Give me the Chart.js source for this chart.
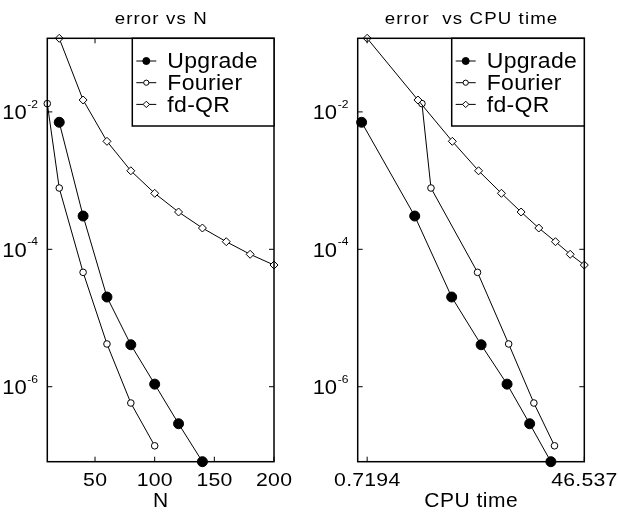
<!DOCTYPE html>
<html>
<head>
<meta charset="utf-8">
<script src="https://cdn.jsdelivr.net/npm/chart.js@4/dist/chart.umd.min.js"></script>
<style>
  html, body { margin: 0; padding: 0; background: #fff; }
  #wrap { position: relative; width: 618px; height: 513px; background: #fff; }
  .panel { position: absolute; top: 0; width: 309px; height: 513px; }
  #p1 { left: 0; }
  #p2 { left: 309px; }
</style>
</head>
<body>
<div id="wrap">
  <div class="panel" id="p1"><canvas id="c1" width="309" height="513"></canvas></div>
  <div class="panel" id="p2"><canvas id="c2" width="309" height="513"></canvas></div>
</div>
<script>
// Discretisation sizes of each method
const N_UPGRADE = [20, 40, 60, 80, 100, 120, 140];
const N_FOURIER = [10, 20, 40, 60, 80, 100];
const N_FDQR    = [20, 40, 60, 80, 100, 120, 140, 160, 180, 200];

// Errors reached at each size
const ERR_UPGRADE = [7.06e-3, 3.05e-4, 2.02e-5, 4.08e-6, 1.09e-6, 2.89e-7, 8.1e-8];
const ERR_FOURIER = [1.32e-2, 7.80e-4, 4.62e-5, 4.19e-6, 5.79e-7, 1.38e-7];
const ERR_FDQR    = [0.1178, 1.489e-2, 3.73e-3, 1.39e-3, 6.53e-4, 3.49e-4, 2.04e-4, 1.29e-4, 8.46e-5, 5.90e-5];

// CPU time spent at each size
const CPU_UPGRADE = [0.647, 1.793, 3.645, 6.42, 10.56, 16.30, 24.5];
const CPU_FOURIER = [2.06, 2.45, 5.99, 10.89, 17.67, 26.26];
const CPU_FDQR    = [0.7194, 1.908, 3.692, 6.111, 9.48, 13.83, 19.42, 26.76, 35.5, 46.537];

const SERIES_NAMES = ['Upgrade', 'Fourier', 'fd-QR'];

// Tick values and their labels
const N_TICKS = [50, 100, 150, 200];
const N_TICK_LABELS = ['50', '100', '150', '200'];
const CPU_TICKS = [0.7194, 46.537];
const CPU_TICK_LABELS = ['0.7194', '46.537'];
const ERR_TICKS = [1e-2, 1e-4, 1e-6];
const ERR_TICK_BASE = '10';
const ERR_TICK_EXPONENTS = ['-2', '-4', '-6'];

const FONT = "'Liberation Sans', Arial, Helvetica, sans-serif";

function pairs(xs, ys) { return xs.map((x, i) => ({ x: x, y: ys[i] })); }

const STYLES = [
  { pointStyle: 'circle',  pointRadius: 5,   fill: '#000', legendRadius: 3.5 },
  { pointStyle: 'circle',  pointRadius: 3.3, fill: '#fff', legendRadius: 2.6 },
  { pointStyle: 'rectRot', pointRadius: 4,   fill: '#fff', legendRadius: 3.2 }
];

function makeDatasets(xsList, ysList) {
  return xsList.map((xs, k) => ({
    label: SERIES_NAMES[k],
    data: pairs(xs, ysList[k]),
    borderColor: '#000',
    borderWidth: 1,
    pointStyle: STYLES[k].pointStyle,
    pointRadius: STYLES[k].pointRadius,
    pointHoverRadius: STYLES[k].pointRadius,
    pointBackgroundColor: STYLES[k].fill,
    pointBorderColor: '#000',
    pointBorderWidth: 1,
    tension: 0,
    fill: false,
    clip: false,
    order: 2 - k
  }));
}

// Text with a horizontal stretch and optional letter spacing
function spacedText(ctx, text, x, y, size, spacing, align, sx) {
  sx = sx || 1;
  ctx.save();
  ctx.font = size + 'px ' + FONT;
  ctx.fillStyle = '#000';
  ctx.textAlign = 'left';
  ctx.textBaseline = 'alphabetic';
  const hasLS = 'letterSpacing' in ctx;
  if (hasLS) ctx.letterSpacing = '0px';
  const w = (ctx.measureText(text).width + (hasLS ? spacing * (text.length - 1) : 0)) * sx;
  if (hasLS) ctx.letterSpacing = spacing + 'px';
  let left = x;
  if (align === 'center') left = x - w / 2;
  else if (align === 'right') left = x - w;
  ctx.translate(left, y);
  ctx.scale(sx, 1);
  ctx.fillText(text, 0, 0);
  ctx.restore();
  return w;
}

function seg(ctx, x1, y1, x2, y2) {
  ctx.beginPath(); ctx.moveTo(x1, y1); ctx.lineTo(x2, y2); ctx.stroke();
}

// Box, inward ticks, tick labels, titles and the in-plot legend
const framePlugin = {
  id: 'frame',
  afterDraw(chart, args, opts) {
    const ctx = chart.ctx;
    const a = chart.chartArea;
    const xs = chart.scales.x, ys = chart.scales.y;
    ctx.save();
    ctx.strokeStyle = '#000';

    // ticks
    ctx.lineWidth = 1;
    opts.xTicks.forEach((v, i) => {
      const px = xs.getPixelForValue(v);
      seg(ctx, px, a.bottom, px, a.bottom - 5);
      seg(ctx, px, a.top, px, a.top + 5);
      spacedText(ctx, opts.xTickLabels[i], px, 485.5, 18, 0.2, 'center', 1.18);
    });
    ERR_TICKS.forEach((v, i) => {
      const py = ys.getPixelForValue(v);
      seg(ctx, a.left, py, a.left + 5, py);
      seg(ctx, a.right, py, a.right - 5, py);
      const baseRight = a.left - 20.6;
      spacedText(ctx, ERR_TICK_BASE, baseRight, py + 7.3, 20, 0, 'right', 1.1);
      spacedText(ctx, ERR_TICK_EXPONENTS[i], baseRight + 0.6, py - 4, 11, 0, 'left', 1.1);
    });

    // plot box
    ctx.lineWidth = 1.5;
    ctx.strokeRect(a.left, a.top, a.right - a.left, a.bottom - a.top);

    // titles
    const cx = (a.left + a.right) / 2;
    spacedText(ctx, opts.title, cx, 23.5, 17, 1.0, 'center', 1.1);
    spacedText(ctx, opts.xTitle, cx, 506.7, 20, 0.5, 'center', 1.05);

    // legend
    const bw = opts.legendWidth;
    const bx = a.right - bw, by = a.top, bh = 126 - a.top;
    ctx.fillStyle = '#fff';
    ctx.fillRect(bx, by, bw, bh);
    ctx.lineWidth = 1.5;
    ctx.strokeRect(bx, by, bw, bh);
    chart.data.datasets.forEach((ds, k) => {
      const base = by + 30 + k * 21.7;
      const my = base - 7.3;
      ctx.lineWidth = 1;
      ctx.strokeStyle = '#000';
      seg(ctx, bx + 4, my, bx + 24, my);
      ctx.fillStyle = STYLES[k].fill;
      ctx.strokeStyle = '#000';
      Chart.helpers.drawPoint(ctx, {
        pointStyle: STYLES[k].pointStyle,
        radius: STYLES[k].legendRadius,
        rotation: 0,
        borderWidth: 1
      }, bx + 14, my);
      spacedText(ctx, ds.label, bx + 35, base, 21.5, 0.3, 'left', 1.07);
    });
    ctx.restore();
  }
};

const allErr = ERR_UPGRADE.concat(ERR_FOURIER, ERR_FDQR);
const Y_MIN = Math.min.apply(null, allErr);
const Y_MAX = Math.max.apply(null, allErr);
const allCpu = CPU_UPGRADE.concat(CPU_FOURIER, CPU_FDQR);

function makeChart(id, datasets, xScale, padding, frame) {
  return new Chart(document.getElementById(id), {
    type: 'line',
    data: { datasets: datasets },
    options: {
      responsive: false,
      animation: false,
      devicePixelRatio: 1,
      layout: { padding: padding },
      scales: {
        x: Object.assign({ display: false }, xScale),
        y: { type: 'logarithmic', display: false, min: Y_MIN, max: Y_MAX }
      },
      plugins: {
        legend: { display: false },
        tooltip: { enabled: false },
        frame: frame
      }
    },
    plugins: [framePlugin]
  });
}

makeChart('c1',
  makeDatasets([N_UPGRADE, N_FOURIER, N_FDQR], [ERR_UPGRADE, ERR_FOURIER, ERR_FDQR]),
  { type: 'linear', min: 10, max: 200 },
  { left: 47.3, right: 35, top: 38.3, bottom: 51.3 },
  { title: 'error vs N', xTitle: 'N', xTicks: N_TICKS, xTickLabels: N_TICK_LABELS, legendWidth: 141.7 });

makeChart('c2',
  makeDatasets([CPU_UPGRADE, CPU_FOURIER, CPU_FDQR], [ERR_UPGRADE, ERR_FOURIER, ERR_FDQR]),
  { type: 'logarithmic', min: Math.min.apply(null, allCpu), max: Math.max.apply(null, allCpu) },
  { left: 48.7, right: 33.7, top: 38.3, bottom: 51.3 },
  { title: 'error  vs CPU time', xTitle: 'CPU time', xTicks: CPU_TICKS, xTickLabels: CPU_TICK_LABELS, legendWidth: 132.6 });
</script>
</body>
</html>
